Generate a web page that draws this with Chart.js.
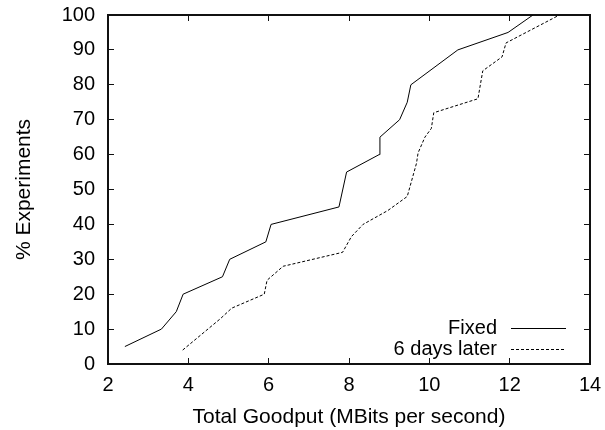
<!DOCTYPE html>
<html>
<head>
<meta charset="utf-8">
<script src="https://cdn.jsdelivr.net/npm/chart.js@4"></script>
<style>
  html, body { margin: 0; padding: 0; background: #fff; }
  #wrap { width: 605px; height: 430px; }
</style>
</head>
<body>
<div id="wrap"><canvas id="goodput"></canvas></div>
<script>
// values
const fixedX = [2.42, 3.33, 3.7, 3.87, 4.85, 5.03, 5.93, 6.06, 7.75, 7.94, 8.75, 8.77, 9.26, 9.45, 9.54, 10.71, 11.96, 12.58];
const fixedY = [5, 10, 15, 20, 25, 30, 35, 40, 45, 55, 60, 65, 70, 75, 80, 90, 95, 100];
const laterX = [3.86, 4.8, 5.08, 5.89, 5.96, 6.36, 7.84, 8.06, 8.35, 8.97, 9.45, 9.68, 9.72, 9.89, 10.05, 10.11, 11.21, 11.33, 11.81, 11.91, 13.24];
const laterY = [4, 13, 16, 20, 24, 28, 32, 36.5, 40, 44, 48, 57.5, 60.5, 65, 67.5, 72, 76, 84, 88, 92, 100];
const seriesNames = ['Fixed', '6 days later'];
const xRange = [2, 14];
const yRange = [0, 100];

const toPoints = (xs, ys) => xs.map((x, i) => ({ x: x, y: ys[i] }));
const FONT = '"Liberation Sans", Arial, sans-serif';
const FRAME = '#111111';

// negative tick length puts the tick marks inside the box, gnuplot style
const boxGrid = { display: true, drawOnChartArea: false, drawTicks: true, tickLength: -6, color: FRAME, lineWidth: 1 };
const boxBorder = { display: true, color: FRAME, width: 2 };

// key at bottom right: text first, line sample after it
const keyPlugin = {
  id: 'keyPlugin',
  afterDraw(chart) {
    const ctx = chart.ctx;
    const a = chart.chartArea;
    ctx.save();
    ctx.font = '20px ' + FONT;
    ctx.fillStyle = '#000';
    ctx.strokeStyle = '#000';
    ctx.lineWidth = 1;
    ctx.textAlign = 'right';
    ctx.textBaseline = 'middle';
    chart.data.datasets.forEach((ds, i) => {
      const ly = Math.round(a.bottom - 36 + i * 21) + 0.5;
      ctx.fillText(ds.label, a.right - 93, ly);
      ctx.setLineDash(ds.borderDash || []);
      ctx.beginPath();
      ctx.moveTo(a.right - 79, ly);
      ctx.lineTo(a.right - 24, ly);
      ctx.stroke();
    });
    ctx.restore();
  }
};

const noOverhang = s => { s.paddingTop = 0; s.paddingBottom = 0; s.paddingLeft = 0; s.paddingRight = 0; };

new Chart(document.getElementById('goodput'), {
  type: 'line',
  data: {
    datasets: [
      { label: seriesNames[0], data: toPoints(fixedX, fixedY), borderColor: '#000', borderWidth: 1, pointRadius: 0, xAxisID: 'x', yAxisID: 'y' },
      { label: seriesNames[1], data: toPoints(laterX, laterY), borderColor: '#000', borderWidth: 1, borderDash: [3, 2], pointRadius: 0, xAxisID: 'x', yAxisID: 'y' }
    ]
  },
  options: {
    responsive: true,
    maintainAspectRatio: false,
    animation: false,
    layout: { padding: { top: 15, right: 15, left: 0, bottom: 0 } },
    plugins: { legend: { display: false }, tooltip: { enabled: false } },
    scales: {
      x: {
        type: 'linear', position: 'bottom', min: xRange[0], max: xRange[1],
        grid: boxGrid, border: boxBorder,
        ticks: { stepSize: 2, color: '#000', font: { family: FONT, size: 20 }, padding: 15 },
        title: { display: true, text: 'Total Goodput (MBits per second)', color: '#000', font: { family: FONT, size: 21 }, padding: { top: 0, bottom: 0 } },
        afterFit: s => { s.height = 66; noOverhang(s); }
      },
      y: {
        type: 'linear', position: 'left', min: yRange[0], max: yRange[1],
        grid: boxGrid, border: boxBorder,
        ticks: { stepSize: 10, color: '#000', font: { family: FONT, size: 20 }, padding: 19 },
        title: { display: true, text: '% Experiments', color: '#000', font: { family: FONT, size: 21 }, padding: { top: 12, bottom: 0 } },
        afterFit: s => { s.width = 108; noOverhang(s); }
      },
      x2: {
        type: 'linear', position: 'top', min: xRange[0], max: xRange[1],
        grid: boxGrid, border: boxBorder,
        ticks: { stepSize: 2, display: false },
        afterFit: s => { s.height = 0; noOverhang(s); }
      },
      y2: {
        type: 'linear', position: 'right', min: yRange[0], max: yRange[1],
        grid: boxGrid, border: boxBorder,
        ticks: { stepSize: 10, display: false },
        afterFit: s => { s.width = 0; noOverhang(s); }
      }
    }
  },
  plugins: [keyPlugin]
});
</script>
</body>
</html>
